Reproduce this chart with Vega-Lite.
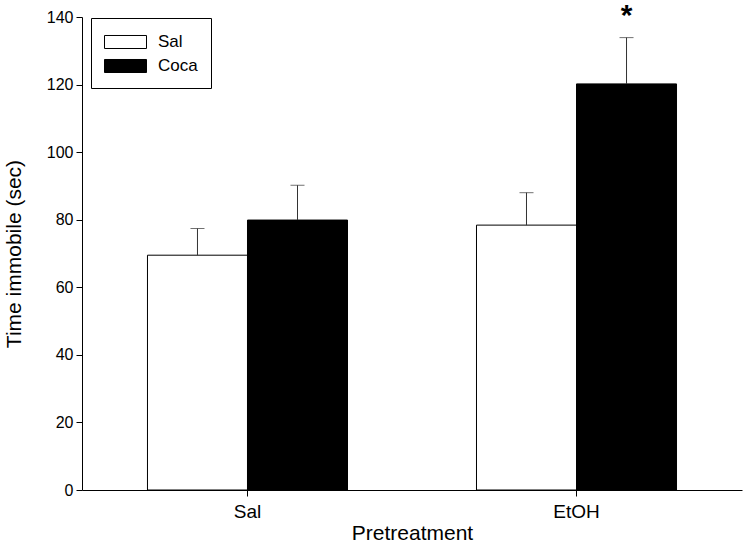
{
  "$schema": "https://vega.github.io/schema/vega-lite/v6.json",
  "width": 660,
  "height": 473,
  "autosize": {"type": "none"},
  "padding": {"left": 82, "top": 17, "right": 3, "bottom": 57},
  "background": "white",
  "config": {
    "view": {"stroke": null},
    "font": "Liberation Sans",
    "axis": {"labelFont": "Liberation Sans", "titleFont": "Liberation Sans", "titleFontWeight": "normal", "labelColor": "black", "titleColor": "black", "domainColor": "black", "tickColor": "black", "grid": false}
  },
  "data": {
    "values": [
      {"pre": "Sal", "treat": "Sal", "mean": 69.5, "err": 77.4},
      {"pre": "Sal", "treat": "Coca", "mean": 79.9, "err": 90.2},
      {"pre": "EtOH", "treat": "Sal", "mean": 78.4, "err": 88.0},
      {"pre": "EtOH", "treat": "Coca", "mean": 120.2, "err": 133.9}
    ]
  },
  "encoding": {
    "x": {
      "field": "pre", "type": "nominal", "sort": ["Sal", "EtOH"],
      "scale": {"paddingInner": 0.392, "paddingOuter": 0.199},
      "axis": {"title": "Pretreatment", "labelAngle": 0, "labelFontSize": 19, "titleFontSize": 21, "tickSize": 6, "labelPadding": 6, "titlePadding": 1}
    },
    "xOffset": {"field": "treat", "type": "nominal", "sort": ["Sal", "Coca"], "scale": {"paddingInner": 0, "paddingOuter": 0}}
  },
  "layer": [
    {
      "mark": {"type": "bar", "stroke": "black", "strokeWidth": 1},
      "encoding": {
        "y": {
          "field": "mean", "type": "quantitative",
          "scale": {"domain": [0, 140], "nice": false},
          "axis": {"title": "Time immobile (sec)", "values": [0, 20, 40, 60, 80, 100, 120, 140], "labelFontSize": 16, "titleFontSize": 21, "tickSize": 6, "labelPadding": 3, "titlePadding": 22}
        },
        "fill": {
          "field": "treat", "type": "nominal", "sort": ["Sal", "Coca"],
          "scale": {"domain": ["Sal", "Coca"], "range": ["white", "black"]},
          "legend": {
            "title": null, "orient": "none", "legendX": 9, "legendY": 1,
            "strokeColor": "black", "padding": 13,
            "symbolType": "M-1,-0.62H3V0.62H-1Z", "symbolSize": 441,
            "symbolStrokeColor": "black", "symbolStrokeWidth": 1,
            "labelFontSize": 17, "labelFont": "Liberation Sans", "labelColor": "black", "labelOffset": 32,
            "rowPadding": 4
          }
        }
      }
    },
    {
      "mark": {"type": "rule", "color": "#333333", "strokeWidth": 1},
      "encoding": {
        "y": {"field": "mean", "type": "quantitative"},
        "y2": {"field": "err"}
      }
    },
    {
      "mark": {"type": "tick", "color": "#333333", "size": 14, "thickness": 1},
      "encoding": {
        "y": {"field": "err", "type": "quantitative"}
      }
    },
    {
      "data": {"values": [{"pre": "EtOH", "treat": "Coca", "pos": 144.7, "label": "*"}]},
      "mark": {"type": "text", "fontSize": 30, "fontWeight": "bold", "baseline": "top", "align": "center", "clip": false, "color": "black"},
      "encoding": {
        "y": {"field": "pos", "type": "quantitative"},
        "text": {"field": "label"}
      }
    }
  ]
}
